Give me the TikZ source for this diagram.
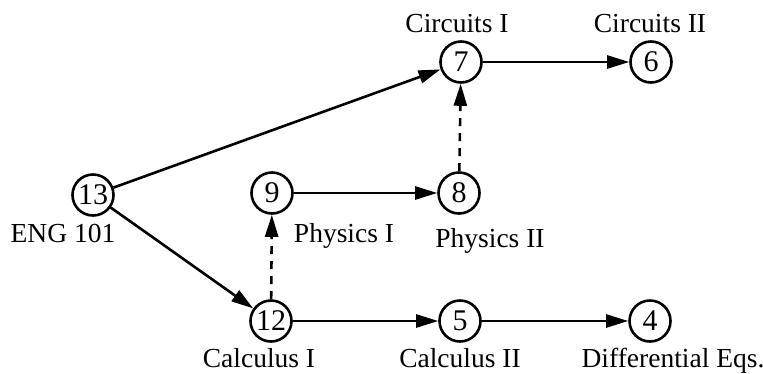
\documentclass[tikz,border=0pt]{standalone}
\usepackage{fontspec}
\setmainfont{Liberation Serif}
\usetikzlibrary{arrows.meta}
\begin{document}
\begin{tikzpicture}[x=1pt,y=-1pt,
  vert/.style={circle,draw,line width=2.6pt,minimum size=41pt,inner sep=0pt,font=\fontsize{30}{32}\selectfont},
  lbl/.style={anchor=base,inner sep=0pt,font=\fontsize{27.5}{30}\selectfont},
  edge/.style={line width=2.6pt,-{Triangle[length=22pt,width=13pt]}},
  dedge/.style={edge,dash pattern=on 8pt off 7pt}]
\useasboundingbox (0,0) rectangle (763,373);
\node[vert] (n13) at (93,195) {13};
\node[vert] (n9) at (272,193) {9};
\node[vert] (n8) at (459,193) {8};
\node[vert] (n7) at (461,62) {7};
\node[vert] (n6) at (651,62) {6};
\node[vert] (n12) at (271,321) {12};
\node[vert] (n5) at (460,321) {5};
\node[vert] (n4) at (650,321) {4};
\node[lbl] (l7) at (457,32) {Circuits I};
\node[lbl] (l6) at (650,32) {Circuits II};
\node[lbl] (l13) at (63,242) {ENG 101};
\node[lbl] (l9) at (344,242) {Physics I};
\node[lbl] (l8) at (490,247) {Physics II};
\node[lbl] (l12) at (259,367) {Calculus I};
\node[lbl] (l5) at (460,367) {Calculus II};
\node[lbl] (l4) at (673,367) {Differential Eqs.};
\draw[edge] (n13) -- (n7);
\draw[edge] (n13) -- (n12);
\draw[edge] (n9) -- (n8);
\draw[edge] (n7) -- (n6);
\draw[edge] (n12) -- (n5);
\draw[edge] (n5) -- (n4);
\draw[dedge] (n12) -- (n9);
\draw[dedge] (n8) -- (n7);
\end{tikzpicture}
\end{document}
